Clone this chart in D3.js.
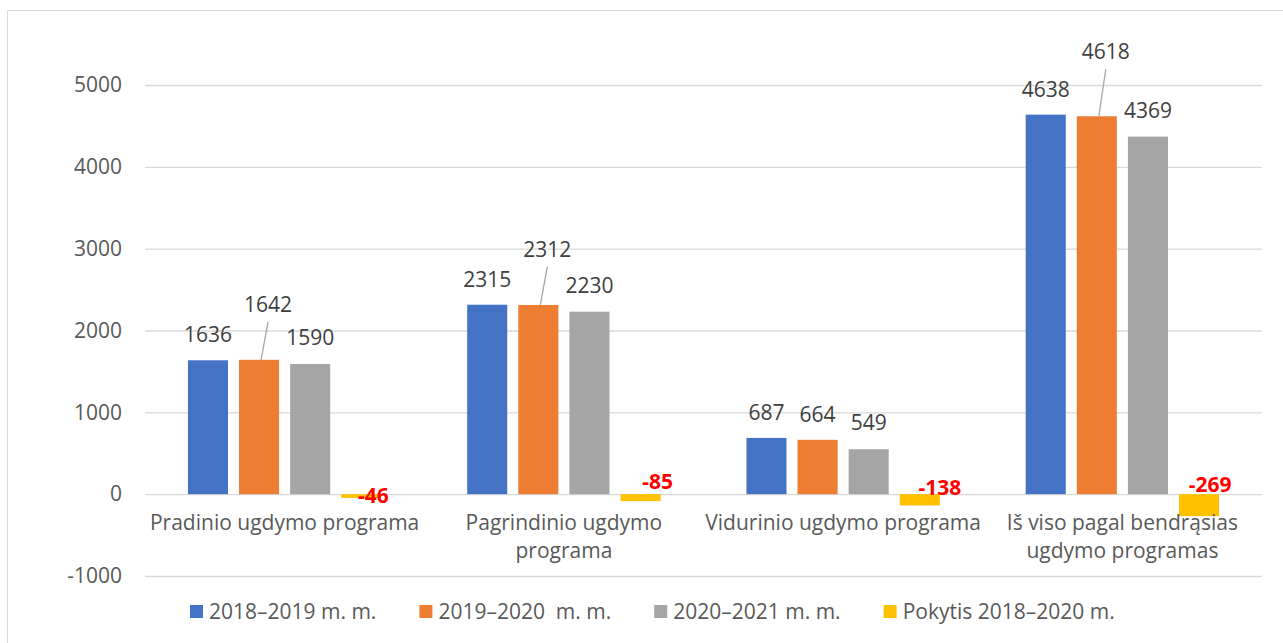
<!DOCTYPE html>
<html>
  <head>
    <meta charset="utf-8">
    <title>ugdymo programos</title>
    <script src="https://cdn.jsdelivr.net/npm/d3@7"></script>
    <style>
      body { margin: 0; background: #fff; }
      text { font-family: "Open Sans", "Noto Sans", sans-serif; }
    </style>
  </head>
  <body>
    <script>

      //Data
      var categories = ["Pradinio", "Pagrindinio", "Vidurinio", "Is viso"];
      var tickLabels = [
        ["Pradinio ugdymo programa"],
        ["Pagrindinio ugdymo", "programa"],
        ["Vidurinio ugdymo programa"],
        ["Iš viso pagal bendrąsias", "ugdymo programas"]
      ];
      var seriesNames = ["2018–2019 m. m.", "2019–2020  m. m.", "2020–2021 m. m.", "Pokytis 2018–2020 m."];
      var v2018 = [1636, 2315, 687, 4638];
      var v2019 = [1642, 2312, 664, 4618];
      var v2020 = [1590, 2230, 549, 4369];
      var change = [-46, -85, -138, -269];
      var yTicks = [-1000, 0, 1000, 2000, 3000, 4000, 5000];

      var series = [v2018, v2019, v2020, change];
      var colors = ["#4472C4", "#ED7D31", "#A5A5A5", "#FFC000"];

      //Size
      var w = 1283, h = 643;
      var plotLeft = 145, plotRight = 1262, plotTop = 85, plotBottom = 576;

      var svg = d3.select("body").append("svg")
                  .attr("width", w)
                  .attr("height", h);

      //Chart border (right and bottom edges run off the page)
      svg.append("rect")
         .attr("x", 7.5).attr("y", 10.5)
         .attr("width", 1300).attr("height", 660)
         .attr("fill", "none")
         .attr("stroke", "#D9D9D9");

      //Scales
      var x = d3.scaleBand()
                .domain(categories)
                .range([plotLeft, plotRight]);

      var xIn = d3.scaleBand()
                  .domain(d3.range(series.length))
                  .range([0, x.bandwidth()])
                  .paddingInner(0.216)
                  .paddingOuter(0.84);

      var y = d3.scaleLinear()
                .domain([-1000, 5000])
                .range([plotBottom, plotTop]);

      //Y axis + gridlines
      var yAxis = svg.append("g")
                     .attr("transform", "translate(" + plotLeft + ",0)")
                     .call(d3.axisLeft(y)
                             .tickValues(yTicks)
                             .tickSize(-(plotRight - plotLeft))
                             .tickPadding(23)
                             .tickFormat(function(d) { return String(d); }));
      yAxis.select(".domain").remove();
      yAxis.selectAll("line").attr("stroke", "#D9D9D9").attr("stroke-width", 1.3);
      yAxis.selectAll("text")
           .attr("fill", "#595959")
           .style("font-size", "21px")
           .style("font-family", "'Open Sans', sans-serif");

      //Bars
      var groups = svg.selectAll("g.cat")
                      .data(categories)
                      .enter()
                      .append("g")
                      .attr("class", "cat")
                      .attr("transform", function(d) { return "translate(" + x(d) + ",0)"; });

      groups.selectAll("rect")
            .data(function(d, i) {
              return series.map(function(s, j) { return { s: j, v: s[i] }; });
            })
            .enter()
            .append("rect")
            .attr("x", function(d) { return xIn(d.s); })
            .attr("y", function(d) { return y(Math.max(0, d.v)); })
            .attr("width", xIn.bandwidth())
            .attr("height", function(d) { return Math.abs(y(d.v) - y(0)); })
            .attr("fill", function(d) { return colors[d.s]; });

      //Data label nudges (callouts for the middle series, red labels for the change)
      var raised = [48, 48, 0, 57];
      var changeDx = [12, 17, 20, 11];
      var changeDy = [9, -5, 1, -2];

      groups.each(function(cat, i) {
        var g = d3.select(this);
        [0, 1, 2].forEach(function(j) {
          var val = series[j][i];
          var cx = xIn(j) + xIn.bandwidth() / 2;
          var barTop = y(val);
          var lift = j === 1 ? raised[i] : 0;
          var tx = cx + (lift ? 9 : 0);
          var base = lift ? barTop - lift : barTop - 18;
          if (j === 2) { base = barTop - 19; }
          if (lift) {
            g.append("line")
             .attr("x1", tx).attr("y1", base + 10)
             .attr("x2", cx + 2).attr("y2", barTop)
             .attr("stroke", "#A6A6A6")
             .attr("stroke-width", 1.3);
          }
          g.append("text")
           .attr("x", tx)
           .attr("y", base)
           .attr("text-anchor", "middle")
           .attr("fill", "#404040")
           .style("font-size", "21px")
           .text(val);
        });
        var ccx = xIn(3) + xIn.bandwidth() / 2;
        g.append("text")
         .attr("x", ccx + changeDx[i])
         .attr("y", y(0) + changeDy[i])
         .attr("text-anchor", "middle")
         .attr("fill", "#FF0000")
         .attr("font-weight", "bold")
         .style("font-size", "21px")
         .text(change[i]);
      });

      //Category axis
      var xAxis = svg.append("g")
                     .attr("transform", "translate(0," + y(0) + ")")
                     .call(d3.axisBottom(x).tickSize(0).tickFormat(""));
      xAxis.select(".domain").remove();
      xAxis.selectAll(".tick").each(function(d, i) {
        var t = d3.select(this).append("text")
                  .attr("fill", "#595959")
                  .attr("text-anchor", "middle")
                  .style("font-size", "21px");
        tickLabels[i].forEach(function(line, k) {
          t.append("tspan")
           .attr("x", 0)
           .attr("y", 36 + k * 28)
           .text(line);
        });
      });

      //Legend
      var lx = 190;
      var legend = svg.append("g").attr("transform", "translate(0,612)");
      seriesNames.forEach(function(name, i) {
        legend.append("rect")
              .attr("x", lx).attr("y", -7)
              .attr("width", 13).attr("height", 13)
              .attr("fill", colors[i]);
        var t = legend.append("text")
                      .attr("x", lx + 19)
                      .attr("y", 7)
                      .attr("fill", "#595959")
                      .style("font-size", "21px")
                      .style("white-space", "pre")
                      .text(name);
        lx += 19 + t.node().getComputedTextLength() + 43;
      });

    </script>
  </body>
</html>
